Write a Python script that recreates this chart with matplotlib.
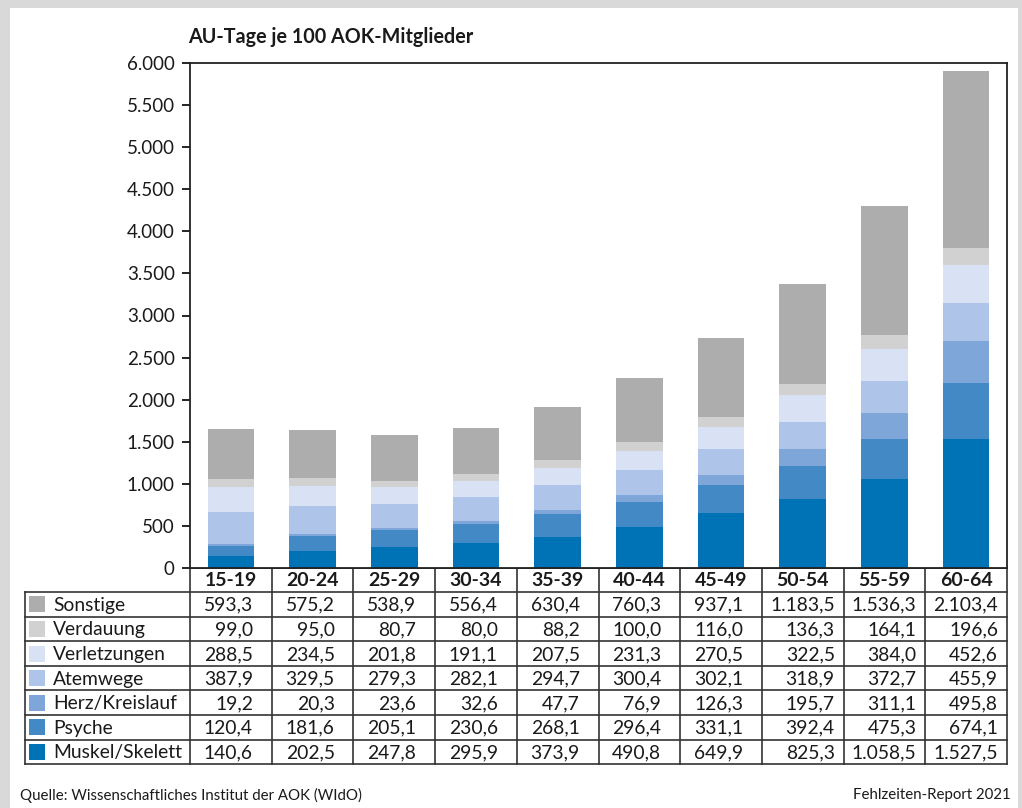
import matplotlib
matplotlib.use("Agg")
import matplotlib.pyplot as plt
from matplotlib.patches import Rectangle
import numpy as np

plt.rcParams['font.family'] = ['Lato', 'DejaVu Sans']

groups = ['15-19', '20-24', '25-29', '30-34', '35-39', '40-44', '45-49', '50-54', '55-59', '60-64']
# stacked bottom -> top
series = ['Muskel/Skelett', 'Psyche', 'Herz/Kreislauf', 'Atemwege', 'Verletzungen', 'Verdauung', 'Sonstige']
muskel = [140.6, 202.5, 247.8, 295.9, 373.9, 490.8, 649.9, 825.3, 1058.5, 1527.5]
psyche = [120.4, 181.6, 205.1, 230.6, 268.1, 296.4, 331.1, 392.4, 475.3, 674.1]
herz = [19.2, 20.3, 23.6, 32.6, 47.7, 76.9, 126.3, 195.7, 311.1, 495.8]
atemwege = [387.9, 329.5, 279.3, 282.1, 294.7, 300.4, 302.1, 318.9, 372.7, 455.9]
verletzungen = [288.5, 234.5, 201.8, 191.1, 207.5, 231.3, 270.5, 322.5, 384.0, 452.6]
verdauung = [99.0, 95.0, 80.7, 80.0, 88.2, 100.0, 116.0, 136.3, 164.1, 196.6]
sonstige = [593.3, 575.2, 538.9, 556.4, 630.4, 760.3, 937.1, 1183.5, 1536.3, 2103.4]
values = [muskel, psyche, herz, atemwege, verletzungen, verdauung, sonstige]
colors = ['#0072b6', '#4289c6', '#7fa6d8', '#aec4e8', '#d9e2f5', '#d0d1d0', '#adadad']

W, H = 1022, 808
tc = '#1a1a1a'
fig = plt.figure(figsize=(W / 100, H / 100), dpi=100)

# light grey frame round the whole graphic
bg = fig.add_axes([0, 0, 1, 1])
bg.set_xlim(0, W)
bg.set_ylim(H, 0)
bg.axis('off')
bg.add_patch(Rectangle((0, 0), W, H, facecolor='#d9d9d9', edgecolor='none'))
bg.add_patch(Rectangle((10, 8), W - 14, H, facecolor='white', edgecolor='none'))

left, right, top, zero = 190, 1007, 63, 568
ax = fig.add_axes([left / W, 1 - zero / H, (right - left) / W, (zero - top) / H])
x = np.arange(len(groups)) + 0.5
bottom = np.zeros(len(groups))
for name, vals, c in zip(series, values, colors):
    ax.bar(x, vals, 0.57, bottom=bottom, color=c, label=name)
    bottom += np.array(vals)
ax.set_xlim(0, len(groups))
ax.set_ylim(0, 6000)
ax.set_xticks([])
yt = np.arange(0, 6001, 500)
ax.set_yticks(yt)
ax.set_yticklabels([f'{v:,}'.replace(',', '.') for v in yt], fontsize=13.5, color=tc)
ax.tick_params(axis='y', direction='out', length=6, width=1.2, pad=5)
for s in ax.spines.values():
    s.set_linewidth(1.3)
    s.set_color('#222222')

bg.text(188, 37, 'AU-Tage je 100 AOK-Mitglieder', fontsize=14.2, fontweight='bold',
        va='center', ha='left', color=tc)

# table below the bars
colw = (right - left) / len(groups)
tleft = 25
head_h = 24
row_h = 24.6
rows_top = zero + head_h
rows_bottom = rows_top + row_h * len(series)
lc = '#333333'
bg.plot([left, right], [zero, zero], color=lc, lw=1.3)
for i in range(len(groups) + 1):
    bg.plot([left + i * colw] * 2, [zero, rows_bottom], color=lc, lw=1.2)
bg.plot([tleft, tleft], [rows_top, rows_bottom], color=lc, lw=1.2)
for r in range(len(series) + 1):
    yy = rows_top + r * row_h
    bg.plot([tleft, right], [yy, yy], color=lc, lw=1.2)
for i, g in enumerate(groups):
    bg.text(left + (i + 0.5) * colw, zero + head_h / 2 + 1, g, fontsize=14, fontweight='bold',
            ha='center', va='center', color=tc)

def fmt(v):
    s = f'{v:,.1f}'
    return s.replace(',', 'X').replace('.', ',').replace('X', '.')

order = list(range(len(series)))[::-1]  # table lists top series first
for r, k in enumerate(order):
    yc = rows_top + (r + 0.5) * row_h + 1
    bg.add_patch(Rectangle((29, yc - 9), 16, 16, facecolor=colors[k], edgecolor='none'))
    bg.text(53, yc, series[k], fontsize=13.9, ha='left', va='center', color=tc)
    for i in range(len(groups)):
        wide = max(values[j][i] for j in range(len(series))) >= 1000
        off = 32 if wide else 22
        bg.text(left + (i + 0.5) * colw + off, yc, fmt(values[k][i]), fontsize=13.9,
                ha='right', va='center', color=tc)

bg.text(20, 795, 'Quelle: Wissenschaftliches Institut der AOK (WIdO)', fontsize=10.8,
        ha='left', va='center', color=tc)
bg.text(1011, 795, 'Fehlzeiten-Report 2021', fontsize=10.8, ha='right', va='center', color=tc)

fig.savefig('out.png', dpi=100)
